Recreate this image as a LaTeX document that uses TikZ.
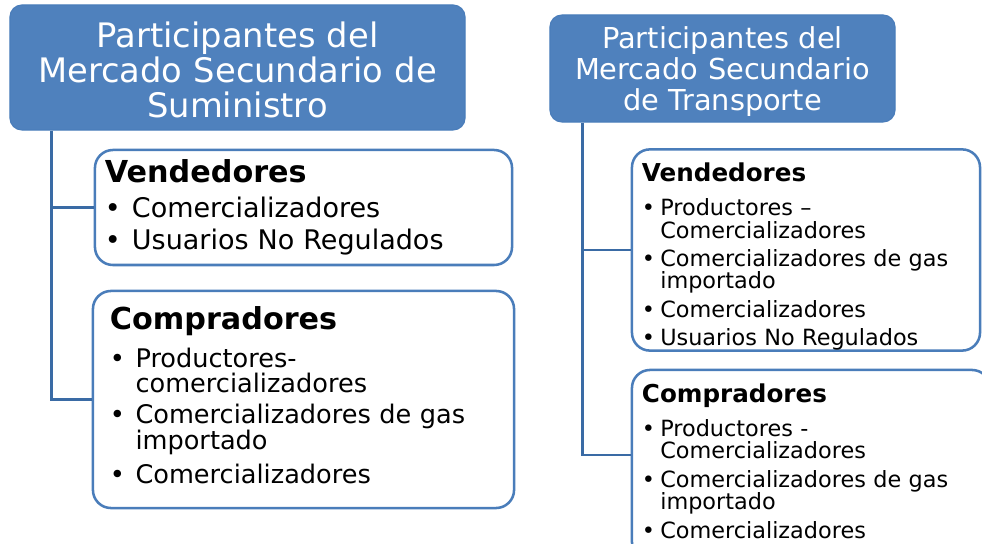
\documentclass[tikz,border=0pt]{standalone}
\usepackage{fontspec}
\setmainfont{DejaVu Sans}
\definecolor{titleblue}{HTML}{4F81BD}
\definecolor{edgeblue}{HTML}{4A7DBA}
\definecolor{lineblue}{HTML}{3A6BA5}
\setlength{\lineskiplimit}{-4pt}
\newcommand{\itm}[1][1em]{\makebox[#1][l]{\textbullet}}
\newcommand{\ind}[1][1em]{\hspace*{#1}}

\begin{document}
\begin{tikzpicture}[
    x=0.025cm, y=-0.025cm,
    title_style/.style={draw=edgeblue, fill=titleblue, text=white, rounded corners=0.3cm, align=center, line width=0.8pt}, % 标题框:蓝底白字
    card_style/.style={draw=edgeblue, fill=white, rounded corners=0.45cm, align=left, line width=1.8pt, inner ysep=0pt}, % 列表框:白底蓝边
    link_style/.style={draw=lineblue, line width=2.1pt} % 连线:深蓝粗线
  ]
  \useasboundingbox (0,0) rectangle (982,544);

  % 1. 左侧:供应二级市场
  \node[title_style, text width=11.2cm, inner xsep=0.0875cm, minimum height=3.125cm, font=\fontsize{24}{25}\selectfont] (ltitle) at (237.5,67.5) {\rule{0pt}{21.8pt}Participantes del\\Mercado Secundario de\\Suministro};

  \node[card_style, text width=9.925cm, inner xsep=0.25cm, minimum height=2.875cm, font=\fontsize{19.2}{22.8}\selectfont] (lvend) at (303.5,207.5) {{\fontsize{21.5}{22}\selectfont\bfseries Vendedores}\\[2pt]\itm Comercializadores\\\itm Usuarios No Regulados};

  \node[card_style, text width=9.675cm, inner xsep=0.425cm, minimum height=5.425cm, font=\fontsize{18.2}{17.5}\selectfont] (lcomp) at (303.5,399.5) {{\fontsize{21.5}{22}\selectfont\bfseries Compradores}\\[8pt]\itm Productores-\\\ind comercializadores\\[5pt]\itm Comercializadores de gas\\\ind importado\\[5pt]\itm Comercializadores\rule[-7pt]{0pt}{0pt}};

  % 2. 右侧:运输二级市场
  \node[title_style, text width=8.45cm, inner xsep=0.0875cm, minimum height=2.675cm, font=\fontsize{20.5}{22}\selectfont] (rtitle) at (722.5,68.5) {\rule{0pt}{19.9pt}Participantes del\\Mercado Secundario\\de Transporte};

  \node[card_style, text width=8.2cm, inner xsep=0.25cm, minimum height=5cm, font=\fontsize{15.9}{15.8}\selectfont] (rvend) at (806,250) {{\fontsize{17.5}{18}\selectfont\bfseries\rule{0pt}{23pt}Vendedores}\\[8.5pt]\itm[0.82em]Productores --\\\ind[0.82em]Comercializadores\\[4.5pt]\itm[0.82em]Comercializadores de gas\\\ind[0.82em]importado\\[4.5pt]\itm[0.82em]Comercializadores\\[4.5pt]\itm[0.82em]Usuarios No Regulados};

  \node[card_style, text width=8.45cm, inner xsep=0.25cm, minimum height=4.75cm, font=\fontsize{15.9}{15.8}\selectfont] (rcomp) at (811,465) {{\fontsize{17.5}{18}\selectfont\bfseries Compradores}\\[8.5pt]\itm[0.82em]Productores -\\\ind[0.82em]Comercializadores\\[4.5pt]\itm[0.82em]Comercializadores de gas\\\ind[0.82em]importado\\[4.5pt]\itm[0.82em]Comercializadores\rule[-5.7pt]{0pt}{0pt}};

  % 3. 连线:标题框 -> 列表框
  \draw[link_style] ([xshift=1.05cm]ltitle.south west) |- (lvend.west);
  \draw[link_style] ([xshift=1.05cm]ltitle.south west) |- (lcomp.west);
  \draw[link_style] ([xshift=0.825cm]rtitle.south west) |- (rvend.west);
  \draw[link_style] ([xshift=0.825cm]rtitle.south west) |- ([yshift=0.25cm]rcomp.west);

\end{tikzpicture}
\end{document}
